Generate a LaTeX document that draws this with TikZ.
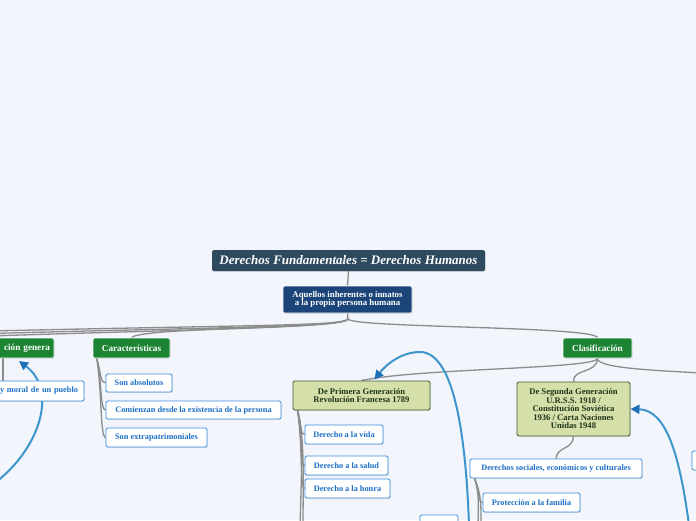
\documentclass[tikz,border=0pt]{standalone}
\usepackage{fontspec}
\setmainfont{Liberation Serif}
\usetikzlibrary{arrows.meta,shadows}
\definecolor{bgc}{HTML}{F2F5FC}
\definecolor{titlec}{HTML}{2D4A5E}
\definecolor{mainc}{HTML}{1B4479}
\definecolor{catc}{HTML}{1D8433}
\definecolor{genc}{HTML}{D4DFA9}
\definecolor{genb}{HTML}{3D5C32}
\definecolor{gent}{HTML}{20361A}
\definecolor{leafb}{HTML}{3C8DDB}
\definecolor{leaft}{HTML}{1C6FC7}
\definecolor{connc}{HTML}{8C8C8C}
\definecolor{relc}{HTML}{3D96CB}
\definecolor{relh}{HTML}{1C70B5}
\pgfdeclarelayer{back}
\pgfsetlayers{back,main}
\begin{document}
\begin{tikzpicture}[x=1pt,y=-1pt,
  box/.style={rectangle, rounded corners=1.5pt, inner sep=0pt, align=center,
    drop shadow={shadow xshift=0.7pt, shadow yshift=-0.9pt, opacity=0.22}},
  titlebox/.style={box, fill=titlec, text=white, font=\bfseries\itshape\fontsize{13}{14}\selectfont},
  mainbox/.style={box, fill=mainc, draw=white, line width=0.6pt, text=white, font=\bfseries\fontsize{8.8}{8.6}\selectfont},
  catbox/.style={box, fill=catc, draw=white, line width=0.6pt, text=white, font=\bfseries\fontsize{9.2}{10}\selectfont},
  genbox/.style={box, fill=genc, draw=genb, line width=0.9pt, text=gent, font=\bfseries\fontsize{8.6}{8.5}\selectfont},
  leafbox/.style={box, fill=white, draw=leafb, line width=0.9pt, text=leaft, font=\bfseries\fontsize{8.3}{9}\selectfont},
  conn/.style={draw=connc, line width=1.3pt},
  rel/.style={draw=relc, line width=2pt, -{Triangle[length=9pt,width=9pt,color=relh]}},
]
\useasboundingbox (0,0) rectangle (696,520);

% nodes
\node[titlebox, minimum width=273pt, minimum height=21pt] (title) at (348.5,260.5) {Derechos Fundamentales = Derechos Humanos};
\node[mainbox, minimum width=129pt, minimum height=27pt] (main) at (347.5,299.5) {Aquellos inherentes o innatos\\a la propia persona humana};
\node[catbox, minimum width=84pt, minimum height=20pt, text width=76pt, align=right] (gen0) at (12,348) {ción genera};
\node[catbox, minimum width=77pt, minimum height=20pt] (car) at (131.5,348) {Características};
\node[catbox, minimum width=69pt, minimum height=20pt] (cla) at (597.5,348) {Clasificación};
\node[leafbox, minimum width=124pt, minimum height=20pt, text width=112pt, align=right] (moral) at (22,391) {y moral de un pueblo};
\node[leafbox, minimum width=66pt, minimum height=18pt] (abs) at (139,383) {Son absolutos};
\node[leafbox, minimum width=175pt, minimum height=18pt] (com) at (193.5,410) {Comienzan desde la existencia de la persona};
\node[leafbox, minimum width=101pt, minimum height=19pt] (ext) at (156.5,437.5) {Son extrapatrimoniales};
\node[genbox, minimum width=137pt, minimum height=29pt] (pg) at (361.5,395.5) {De Primera Generación\\Revolución Francesa 1789};
\node[leafbox, minimum width=78pt, minimum height=19pt] (vida) at (344,434.5) {Derecho a la vida};
\node[leafbox, minimum width=83pt, minimum height=19pt] (salud) at (346.5,465.5) {Derecho a la salud};
\node[leafbox, minimum width=85pt, minimum height=19pt] (honra) at (347.5,488.5) {Derecho a la honra};
\node[genbox, minimum width=113pt, minimum height=54pt] (sg) at (573.5,409) {De Segunda Generación\\U.R.S.S. 1918 /\\Constitución Soviética\\1936 / Carta Naciones\\Unidas 1948};
\node[leafbox, minimum width=172pt, minimum height=19pt] (soc) at (556,468.5) {Derechos sociales, económicos y culturales};
\node[leafbox, minimum width=97pt, minimum height=19pt] (fam) at (531.5,502.5) {Protección a la familia};
\node[leafbox, minimum width=30pt, minimum height=19pt] (r1) at (707,460.5) {};
\node[leafbox, minimum width=38pt, minimum height=26pt] (b1) at (439,528) {};

% off-page ends
\coordinate (J) at (348,319);
\coordinate (offL1) at (-10,331);
\coordinate (offL2) at (-10,333.5);
\coordinate (offL3) at (-10,336);
\coordinate (offR) at (700,373);
\coordinate (pgd1) at (300,530);
\coordinate (pgd2) at (303,530);
\coordinate (socd1) at (478,530);
\coordinate (socd2) at (481,530);
\coordinate (aS) at (-4,482);
\coordinate (aT) at (19,361);
\coordinate (bS) at (469,525);
\coordinate (bTop) at (420,352);
\coordinate (cS) at (689,525);

\begin{pgfonlayer}{back}
\fill[bgc] (0,0) rectangle (696,520);
\draw[conn] (title.south) -- (main.north);
\draw[conn] (main.south) -- (J);
\draw[conn] (J) .. controls (346,326) and (250,325) .. (offL1);
\draw[conn] (J) .. controls (345,327) and (230,327) .. (offL2);
\draw[conn] (J) .. controls (344,328) and (200,329) .. (offL3);
\draw[conn] (J) .. controls (344,329) and (140,327) .. (car.north);
\draw[conn] (J) .. controls (352,328) and (595,326) .. (cla.north);
\draw[conn] (cla.south) .. controls (597,369) and (420,368) .. (pg.north);
\draw[conn] (cla.south) .. controls (597,368) and (650,370) .. (offR);
\draw[conn] (cla.south) .. controls (597,374) and (573,368) .. (sg.north);
\draw[conn] ([xshift=-9pt]gen0.south) -- ([xshift=-19pt]moral.north);
\draw[conn] ([xshift=4pt]car.south west) .. controls (101,372) and (100,383) .. (abs.west);
\draw[conn] ([xshift=4pt]car.south west) .. controls (102,380) and (100,410) .. (com.west);
\draw[conn] ([xshift=4pt]car.south west) .. controls (102,390) and (100,437) .. (ext.west);
\draw[conn] ([xshift=5pt]pg.south west) .. controls (302,425) and (300,434.5) .. (vida.west);
\draw[conn] ([xshift=5pt]pg.south west) .. controls (303,440) and (300,465.5) .. (salud.west);
\draw[conn] ([xshift=5pt]pg.south west) .. controls (303,450) and (300,488.5) .. (honra.west);
\draw[conn] ([xshift=5pt]pg.south west) .. controls (304,440) and (301,480) .. (pgd1);
\draw[conn] ([xshift=5pt]pg.south west) .. controls (305,440) and (303,480) .. (pgd2);
\draw[conn] (sg.south) .. controls (573,450) and (557,446) .. (soc.north);
\draw[conn] ([xshift=5pt]soc.south west) .. controls (479,490) and (478,502.5) .. (fam.west);
\draw[conn] ([xshift=5pt]soc.south west) .. controls (480,495) and (478,510) .. (socd1);
\draw[conn] ([xshift=5pt]soc.south west) .. controls (482,495) and (481,510) .. (socd2);
% relationship arrows
\draw[rel] (aS) .. controls (40,448) and (58,390) .. (aT);
\draw[rel] (bS) .. controls (466,440) and (455,352) .. (bTop) .. controls (400,352) and (385,366) .. ([xshift=13pt,yshift=1pt]pg.north);
\draw[rel] (cS) .. controls (679,450) and (665,410) .. (sg.east);
\end{pgfonlayer}
\end{tikzpicture}
\end{document}
